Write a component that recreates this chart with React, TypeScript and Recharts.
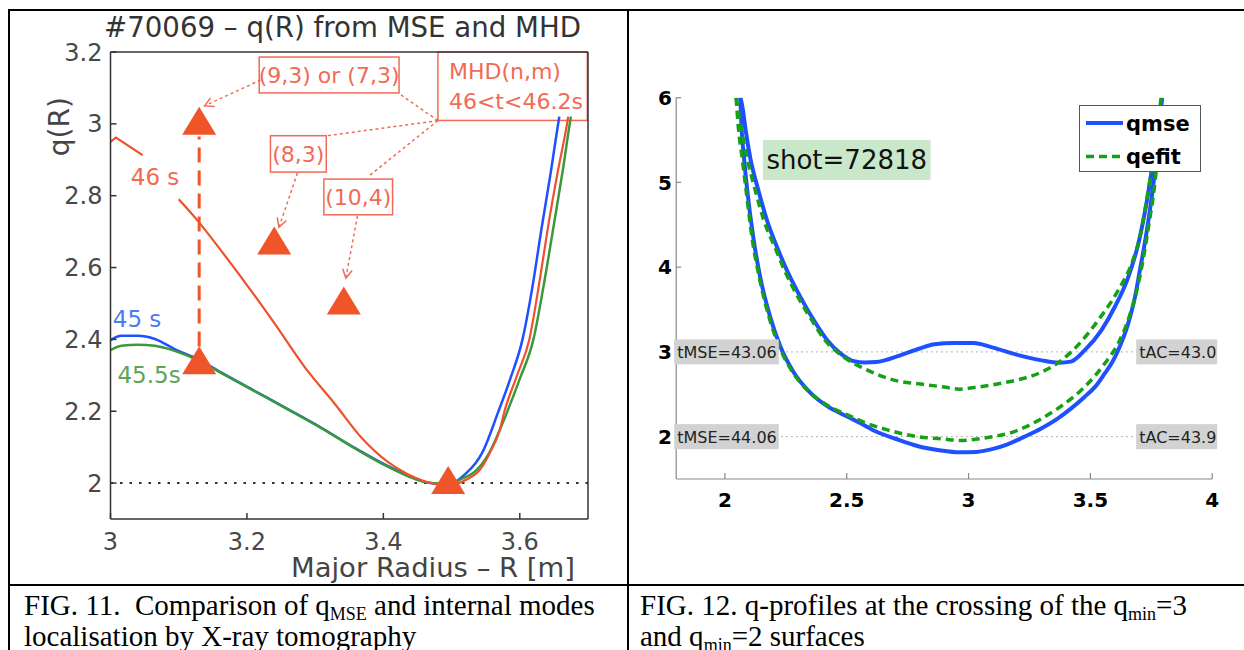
import React from "react";
import {
  Legend,
  Line,
  LineChart,
  ReferenceArea,
  ReferenceDot,
  ReferenceLine,
  XAxis,
  YAxis,
} from "recharts";

const SANS = '"DejaVu Sans", Arial, sans-serif';
const SERIF = '"Liberation Serif", "Times New Roman", serif';

// ---------- FIG. 11 : q(R) from MSE and MHD ----------
const xTicksL = [3, 3.2, 3.4, 3.6];
const yTicksL = [2, 2.2, 2.4, 2.6, 2.8, 3, 3.2];

// [R, q]
const q45s = [
  [3.0, 2.398], [3.016, 2.41], [3.04, 2.41], [3.065, 2.401], [3.094, 2.373],
  [3.128, 2.345], [3.162, 2.308], [3.211, 2.257], [3.26, 2.206], [3.309, 2.154],
  [3.358, 2.098], [3.407, 2.047], [3.44, 2.018], [3.46, 2.004], [3.48, 1.998],
  [3.5, 2.0], [3.52, 2.025], [3.535, 2.055], [3.545, 2.085], [3.568, 2.196],
  [3.586, 2.29], [3.604, 2.4], [3.618, 2.54], [3.632, 2.71], [3.645, 2.86],
  [3.656, 2.997], [3.658, 3.02],
];
const q455s = [
  [3.0, 2.37], [3.016, 2.382], [3.04, 2.385], [3.065, 2.382], [3.094, 2.368],
  [3.128, 2.342], [3.162, 2.307], [3.211, 2.256], [3.26, 2.205], [3.309, 2.153],
  [3.358, 2.097], [3.407, 2.045], [3.44, 2.016], [3.46, 2.003], [3.48, 1.999],
  [3.5, 2.0], [3.515, 2.012], [3.533, 2.03], [3.554, 2.08], [3.581, 2.196],
  [3.6, 2.29], [3.62, 2.4], [3.635, 2.55], [3.65, 2.72], [3.663, 2.87],
  [3.673, 2.997], [3.675, 3.02],
];
const q46sA = [[3.0, 2.95], [3.008, 2.962], [3.047, 2.913]];
const q46sB = [
  [3.1, 2.79], [3.127, 2.732], [3.165, 2.64], [3.206, 2.536], [3.241, 2.443],
  [3.285, 2.322], [3.329, 2.22], [3.368, 2.126], [3.407, 2.058], [3.435, 2.025],
  [3.46, 2.005], [3.488, 1.995], [3.51, 2.0], [3.522, 2.01], [3.542, 2.038],
  [3.556, 2.084], [3.571, 2.15], [3.577, 2.196], [3.596, 2.3], [3.614, 2.4],
  [3.628, 2.55], [3.642, 2.72], [3.656, 2.87], [3.669, 2.997], [3.671, 3.02],
];
// MHD modes (n,m) -> q = n/m
const modes = [[3.13, 3.0], [3.24, 8 / 3], [3.342, 2.5], [3.13, 7 / 3], [3.495, 2.0]];
const modeLink = [[3.13, 2.38], [3.13, 2.965]];

// annotation boxes: [R1, R2, q1, q2]
const annBoxes = [
  { r: [3.218, 3.423, 3.086, 3.186], text: ["(9,3) or (7,3)"], align: "middle" },
  { r: [3.48, 3.699, 3.0095, 3.2], text: ["MHD(n,m)", "46<t<46.2s"], align: "start" },
  { r: [3.2345, 3.3163, 2.8657, 2.9669], text: ["(8,3)"], align: "middle" },
  { r: [3.3128, 3.4135, 2.7468, 2.8462], text: ["(10,4)"], align: "middle" },
];
// dotted pointers: from [R,q] to [R,q]
const annLinks = [
  { a: [3.22, 3.122], b: [3.138, 3.05], head: true },
  { a: [3.48, 3.009], b: [3.424, 3.083], head: false },
  { a: [3.48, 3.009], b: [3.318, 2.967], head: false },
  { a: [3.48, 3.009], b: [3.377, 2.852], head: false },
  { a: [3.274, 2.863], b: [3.247, 2.712], head: true },
  { a: [3.362, 2.744], b: [3.345, 2.57], head: true },
];
const curveTags = [
  { R: 3.0653, q: 2.851, text: "46 s", color: "#F06A52" },
  { R: 3.0389, q: 2.457, text: "45 s", color: "#4A7CF2" },
  { R: 3.0565, q: 2.301, text: "45.5s", color: "#5EA458" },
];

// ---------- FIG. 12 : q-profiles ----------
const xTicksR = [2, 2.5, 3, 3.5, 4];
const yTicksR = [2, 3, 4, 5, 6];

const qmse43 = [
  [2.063, 6.0], [2.07, 5.92], [2.086, 5.6], [2.104, 5.29], [2.138, 4.9],
  [2.173, 4.55], [2.214, 4.235], [2.255, 3.96], [2.31, 3.647], [2.365, 3.373],
  [2.42, 3.138], [2.475, 2.98], [2.53, 2.89], [2.575, 2.875], [2.62, 2.88],
  [2.72, 2.96], [2.8, 3.04], [2.86, 3.09], [2.94, 3.105], [3.02, 3.105],
  [3.1, 3.05], [3.2, 2.965], [3.3, 2.9], [3.37, 2.872], [3.42, 2.885],
  [3.477, 3.02], [3.545, 3.255], [3.6, 3.53], [3.655, 3.88], [3.697, 4.28],
  [3.73, 4.75], [3.76, 5.3], [3.794, 6.0],
];
const qefit43 = [
  [2.046, 6.0], [2.06, 5.75], [2.09, 5.3], [2.125, 4.9], [2.16, 4.55],
  [2.205, 4.235], [2.245, 3.96], [2.3, 3.647], [2.357, 3.373], [2.41, 3.14],
  [2.488, 2.94], [2.585, 2.785], [2.694, 2.667], [2.804, 2.62], [2.9, 2.585],
  [2.962, 2.56], [3.024, 2.58], [3.134, 2.63], [3.216, 2.68], [3.298, 2.76],
  [3.381, 2.9], [3.449, 3.08], [3.532, 3.373], [3.614, 3.726], [3.669, 4.04],
  [3.703, 4.353], [3.74, 4.95], [3.77, 5.5], [3.79, 6.0],
];
const qmse44 = [
  [2.063, 6.0], [2.068, 5.65], [2.078, 5.3], [2.09, 4.95], [2.118, 4.32],
  [2.145, 3.88], [2.186, 3.41], [2.228, 3.06], [2.282, 2.76], [2.35, 2.52],
  [2.42, 2.36], [2.5, 2.24], [2.557, 2.158], [2.62, 2.06], [2.7, 1.975],
  [2.79, 1.89], [2.88, 1.84], [2.964, 1.815], [3.03, 1.82], [3.092, 1.85],
  [3.16, 1.91], [3.23, 2.0], [3.3, 2.1], [3.367, 2.216], [3.42, 2.33],
  [3.477, 2.471], [3.52, 2.59], [3.559, 2.746], [3.59, 2.88], [3.614, 3.02],
  [3.655, 3.334], [3.683, 3.647], [3.703, 3.961], [3.73, 4.4], [3.755, 4.9],
  [3.775, 5.4], [3.794, 6.0],
];
const qefit44 = [
  [2.046, 6.0], [2.055, 5.65], [2.07, 5.3], [2.085, 4.95], [2.112, 4.33],
  [2.14, 3.89], [2.18, 3.42], [2.222, 3.07], [2.276, 2.77], [2.345, 2.53],
  [2.42, 2.37], [2.5, 2.26], [2.58, 2.16], [2.667, 2.08], [2.79, 2.0],
  [2.886, 1.975], [2.969, 1.955], [3.079, 1.99], [3.188, 2.06], [3.23, 2.11],
  [3.298, 2.21], [3.367, 2.334], [3.477, 2.588], [3.559, 2.863], [3.614, 3.1],
  [3.66, 3.42], [3.69, 3.72], [3.712, 4.02], [3.74, 4.5], [3.765, 5.0],
  [3.78, 5.45], [3.79, 6.0],
];
const legendOrder = ["qmse", "qefit"];
const timeTags = [
  { R: 1.8, q: 3, text: "tMSE=43.06", side: "left" },
  { R: 1.8, q: 2, text: "tMSE=44.06", side: "left" },
  { R: 4, q: 3, text: "tAC=43.0", side: "right" },
  { R: 4, q: 2, text: "tAC=43.9", side: "right" },
];
const shotTag = { R: 2.5, q: 5.265, text: "shot=72818" };

const toPts = (a: number[][]) => a.map(([R, q]) => ({ R, q }));

const RED_LINE = "#F0502D";
const ANN = "#F26A55";
const TRI = "#F0552A";
const BOX = "#333";
const BLUE = "#1F50FF";
const GREEN = "#16A016";

const TriDot = (p: any) => {
  const { cx, cy, index } = p;
  if (cx == null || cy == null) return null;
  return (
    <polygon
      key={`tri-${index}`}
      points={`${cx},${cy - 17} ${cx - 17},${cy + 11} ${cx + 17},${cy + 11}`}
      fill={TRI}
    />
  );
};

const boxShape = (lines: string[], align: string) => (p: any) => {
  const { x, y, width, height } = p;
  const cy = y + height / 2;
  const lh = 30;
  const tx = align === "start" ? x + 11 : x + width / 2;
  return (
    <g>
      <rect x={x} y={y} width={width} height={height} fill="#fff" stroke={ANN} strokeWidth={1.5} />
      {lines.map((t, i) => (
        <text
          key={i}
          x={tx}
          y={cy + (i - (lines.length - 1) / 2) * lh + 8}
          textAnchor={align}
          fill={ANN}
          fontSize={22}
          fontFamily={SANS}
        >
          {t}
        </text>
      ))}
    </g>
  );
};

const linkShape = (head: boolean) => (p: any) => {
  const { x1, y1, x2, y2 } = p;
  const ang = Math.atan2(y2 - y1, x2 - x1);
  const L = 10;
  const h1 = [x2 - L * Math.cos(ang - 0.5), y2 - L * Math.sin(ang - 0.5)];
  const h2 = [x2 - L * Math.cos(ang + 0.5), y2 - L * Math.sin(ang + 0.5)];
  return (
    <g stroke={ANN} strokeWidth={1.5} fill="none">
      <line x1={x1} y1={y1} x2={x2} y2={y2} strokeDasharray="3 3" />
      {head && (
        <polyline points={`${h1[0]},${h1[1]} ${x2},${y2} ${h2[0]},${h2[1]}`} />
      )}
    </g>
  );
};

const tagText = (text: string, color: string) => (p: any) => (
  <text
    x={p.cx}
    y={p.cy + 8}
    textAnchor="middle"
    fill={color}
    fontSize={23}
    fontFamily={SANS}
  >
    {text}
  </text>
);

const timeShape = (text: string, side: string) => (p: any) => {
  const w = side === "left" ? 104.6 : 81;
  const x = side === "left" ? p.cx - 2 : p.cx - 76;
  return (
    <g>
      <rect x={x} y={p.cy - 12.5} width={w} height={25} fill="#D2D2D2" />
      <text x={x + 3} y={p.cy + 6} fill="#222" fontSize={16} fontFamily={SANS}>
        {text}
      </text>
    </g>
  );
};

const shotShape = (text: string) => (p: any) => (
  <g>
    <rect x={p.cx - 83.8} y={p.cy - 20} width={167.6} height={40} fill="#C9E8C9" />
    <text x={p.cx} y={p.cy + 9.5} textAnchor="middle" fill="#111" fontSize={26} fontFamily={SANS}>
      {text}
    </text>
  </g>
);

const legendStyle: Record<string, string | undefined> = {
  qmse: undefined,
  qefit: "8 5",
};

const LegendBox = ({ payload }: any) => {
  const items = (payload || [])
    .filter((e: any) => legendOrder.includes(e.value))
    .sort((a: any, b: any) => legendOrder.indexOf(a.value) - legendOrder.indexOf(b.value));
  return (
    <div style={{ width: 122, height: 67, boxSizing: "border-box", border: "1.5px solid #555", background: "#fff" }}>
      <svg width={119} height={64}>
        {items.map((e: any, i: number) => (
          <g key={e.value}>
            <line
              x1={6}
              x2={43}
              y1={17 + i * 33.4}
              y2={17 + i * 33.4}
              stroke={e.color}
              strokeWidth={e.value === "qmse" ? 4 : 3.5}
              strokeDasharray={legendStyle[e.value]}
            />
            <text x={46} y={17 + i * 33.4 + 7.5} fontSize={21} fontWeight={700} fontFamily={SANS} fill="#000">
              {e.value}
            </text>
          </g>
        ))}
      </svg>
    </div>
  );
};

function Fig11() {
  const axisLine = { stroke: BOX, strokeWidth: 1.5 };
  const tickFont = { fill: "#484848", fontSize: 24, fontFamily: SANS };
  return (
    <LineChart width={628} height={585} margin={{ top: 51, right: 39, bottom: 36, left: 60.5 }}>
      <XAxis
        dataKey="R"
        type="number"
        domain={[3, 3.7]}
        ticks={xTicksL}
        interval={0}
        allowDataOverflow
        height={30}
        tickSize={-6}
        tickMargin={19.6}
        axisLine={axisLine}
        tickLine={axisLine}
        tick={tickFont}
      />
      <XAxis
        xAxisId="top"
        orientation="top"
        dataKey="R"
        type="number"
        domain={[3, 3.7]}
        ticks={xTicksL}
        interval={0}
        allowDataOverflow
        height={1}
        tickSize={-6}
        axisLine={axisLine}
        tickLine={axisLine}
        tick={false}
      />
      <YAxis
        dataKey="q"
        type="number"
        domain={[1.9, 3.2]}
        ticks={yTicksL}
        interval={0}
        allowDataOverflow
        width={50}
        tickSize={-6}
        tickMargin={14}
        axisLine={axisLine}
        tickLine={axisLine}
        tick={tickFont}
      />
      <YAxis
        yAxisId="right"
        orientation="right"
        dataKey="q"
        type="number"
        domain={[1.9, 3.2]}
        ticks={yTicksL}
        interval={0}
        allowDataOverflow
        width={1}
        tickSize={-6}
        axisLine={axisLine}
        tickLine={axisLine}
        tick={false}
      />
      <ReferenceLine y={2} stroke="#333" strokeWidth={2} strokeDasharray="2.5 7" />
      <Line data={toPts(q45s)} dataKey="q" type="monotone" stroke={BLUE} strokeWidth={2.5} dot={false} activeDot={false} isAnimationActive={false} />
      <Line data={toPts(q455s)} dataKey="q" type="monotone" stroke="#3A9A3A" strokeWidth={2.5} dot={false} activeDot={false} isAnimationActive={false} />
      <Line data={toPts(q46sA)} dataKey="q" type="linear" stroke={RED_LINE} strokeWidth={2.2} dot={false} activeDot={false} isAnimationActive={false} />
      <Line data={toPts(q46sB)} dataKey="q" type="monotone" stroke={RED_LINE} strokeWidth={2.2} dot={false} activeDot={false} isAnimationActive={false} />
      <Line data={toPts(modeLink)} dataKey="q" type="linear" stroke={TRI} strokeWidth={3} strokeDasharray="15 8" dot={false} activeDot={false} isAnimationActive={false} />
      <Line data={toPts(modes)} dataKey="q" stroke="none" dot={TriDot} activeDot={false} isAnimationActive={false} />
      {annLinks.map((l, i) => (
        <ReferenceLine
          key={`link-${i}`}
          segment={[{ x: l.a[0], y: l.a[1] }, { x: l.b[0], y: l.b[1] }]}
          shape={linkShape(l.head)}
        />
      ))}
      {annBoxes.map((b, i) => (
        <ReferenceArea
          key={`box-${i}`}
          x1={b.r[0]}
          x2={b.r[1]}
          y1={b.r[2]}
          y2={b.r[3]}
          shape={boxShape(b.text, b.align)}
        />
      ))}
      {curveTags.map((t) => (
        <ReferenceDot key={t.text} x={t.R} y={t.q} r={0} shape={tagText(t.text, t.color)} />
      ))}
    </LineChart>
  );
}

function Fig12() {
  const axisLine = { stroke: "#888", strokeWidth: 1.2 };
  const tickFont = { fill: "#000", fontSize: 20, fontWeight: 700, fontFamily: SANS };
  return (
    <LineChart width={616} height={585} margin={{ top: 97.7, right: 31.8, bottom: 66, left: 8.2 }}>
      <XAxis
        dataKey="R"
        type="number"
        domain={[1.8, 4]}
        ticks={xTicksR}
        interval={0}
        allowDataOverflow
        height={40}
        tickSize={-6}
        tickMargin={19.3}
        axisLine={axisLine}
        tickLine={axisLine}
        tick={tickFont}
      />
      <YAxis
        dataKey="q"
        type="number"
        domain={[1.5, 6]}
        ticks={yTicksR}
        interval={0}
        allowDataOverflow
        width={40}
        tickSize={-5}
        tickMargin={9.2}
        axisLine={axisLine}
        tickLine={axisLine}
        tick={tickFont}
      />
      <ReferenceLine y={3} stroke="#999" strokeWidth={1} strokeDasharray="1.5 3.5" />
      <ReferenceLine y={2} stroke="#999" strokeWidth={1} strokeDasharray="1.5 3.5" />
      <Line name="qmse" data={toPts(qmse43)} dataKey="q" type="monotone" stroke={BLUE} strokeWidth={4} dot={false} activeDot={false} isAnimationActive={false} />
      <Line name="qmse44" legendType="none" data={toPts(qmse44)} dataKey="q" type="monotone" stroke={BLUE} strokeWidth={4} dot={false} activeDot={false} isAnimationActive={false} />
      <Line name="qefit" data={toPts(qefit43)} dataKey="q" type="monotone" stroke={GREEN} strokeWidth={3.5} strokeDasharray="8 5" dot={false} activeDot={false} isAnimationActive={false} />
      <Line name="qefit44" legendType="none" data={toPts(qefit44)} dataKey="q" type="monotone" stroke={GREEN} strokeWidth={3.5} strokeDasharray="8 5" dot={false} activeDot={false} isAnimationActive={false} />
      {timeTags.map((t) => (
        <ReferenceDot key={t.text} x={t.R} y={t.q} r={0} shape={timeShape(t.text, t.side)} />
      ))}
      <ReferenceDot x={shotTag.R} y={shotTag.q} r={0} shape={shotShape(shotTag.text)} />
      <Legend
        layout="horizontal"
        align="center"
        verticalAlign="middle"
        wrapperStyle={{ left: 451, top: 105, width: 122, height: 67 }}
        content={LegendBox}
      />
    </LineChart>
  );
}

const subStyle: React.CSSProperties = { fontSize: 18, lineHeight: 0, verticalAlign: "-0.28em" };

export default function App() {
  return (
    <div style={{ position: "absolute", left: 0, top: 0, width: 1244, height: 650, overflow: "hidden", background: "#fff" }}>
      <div style={{ position: "absolute", left: 0, top: 0 }}>
        <Fig11 />
      </div>
      <div style={{ position: "absolute", left: 628, top: 0 }}>
        <Fig12 />
      </div>
      <svg width={1244} height={650} style={{ position: "absolute", left: 0, top: 0, pointerEvents: "none" }}>
        <g fill="#000">
          <rect x={8} y={9} width={1236} height={2} />
          <rect x={8} y={9} width={2} height={641} />
          <rect x={627} y={9} width={2} height={641} />
          <rect x={8} y={584} width={1236} height={2} />
        </g>
        <text x={104} y={37.3} fontSize={27.5} textLength={477} lengthAdjust="spacingAndGlyphs" fill="#333" fontFamily={SANS}>
          #70069 – q(R) from MSE and MHD
        </text>
        <text x={291} y={576.7} fontSize={27} textLength={284} lengthAdjust="spacingAndGlyphs" fill="#444" fontFamily={SANS}>
          Major Radius – R [m]
        </text>
        <text transform="translate(68.6,126.7) rotate(-90)" textAnchor="middle" fontSize={28} fill="#444" fontFamily={SANS}>
          q(R)
        </text>
      </svg>
      <div style={{ position: "absolute", left: 24, top: 589.5, fontFamily: SERIF, fontSize: 29, lineHeight: "31.5px", color: "#000", whiteSpace: "nowrap" }}>
        FIG. 11.&nbsp; Comparison of q<sub style={subStyle}>MSE</sub> and internal modes
        <br />
        localisation by X-ray tomography
      </div>
      <div style={{ position: "absolute", left: 640, top: 589.5, fontFamily: SERIF, fontSize: 29, lineHeight: "31.5px", color: "#000", whiteSpace: "nowrap" }}>
        FIG. 12. q-profiles at the crossing of the q<sub style={subStyle}>min</sub>=3
        <br />
        and q<sub style={subStyle}>min</sub>=2 surfaces
      </div>
    </div>
  );
}
